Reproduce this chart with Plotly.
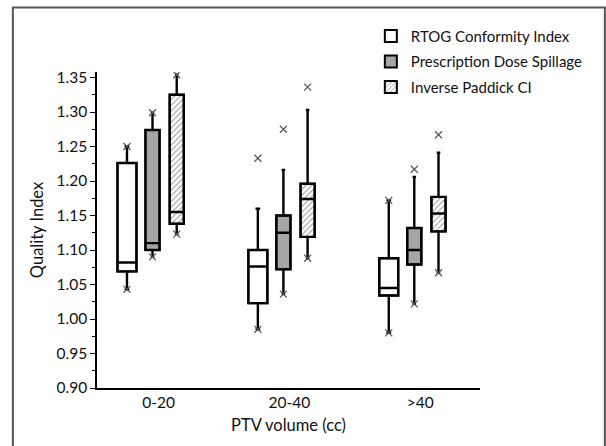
import plotly.graph_objects as go

# ---------------- data ----------------
categories = ["0-20", "20-40", ">40"]
series_names = ["RTOG Conformity Index", "Prescription Dose Spillage", "Inverse Paddick CI"]

rtog_q1 = [1.069, 1.023, 1.034]
rtog_median = [1.082, 1.076, 1.045]
rtog_q3 = [1.226, 1.100, 1.088]
rtog_low = [1.043, 0.985, 0.980]
rtog_high = [1.250, 1.160, 1.172]
rtog_min = [1.043, 0.985, 0.980]
rtog_max = [1.250, 1.233, 1.172]

pds_q1 = [1.100, 1.072, 1.079]
pds_median = [1.110, 1.125, 1.100]
pds_q3 = [1.274, 1.150, 1.132]
pds_low = [1.090, 1.036, 1.022]
pds_high = [1.299, 1.216, 1.206]
pds_min = [1.090, 1.036, 1.022]
pds_max = [1.299, 1.275, 1.217]

ipci_q1 = [1.138, 1.119, 1.127]
ipci_median = [1.155, 1.174, 1.153]
ipci_q3 = [1.325, 1.196, 1.177]
ipci_low = [1.123, 1.088, 1.067]
ipci_high = [1.354, 1.303, 1.241]
ipci_min = [1.123, 1.088, 1.067]
ipci_max = [1.354, 1.336, 1.267]

# ---------------- styling ----------------
FONT = "Lato"
series_stats = [
    (rtog_q1, rtog_median, rtog_q3, rtog_low, rtog_high, rtog_min, rtog_max),
    (pds_q1, pds_median, pds_q3, pds_low, pds_high, pds_min, pds_max),
    (ipci_q1, ipci_median, ipci_q3, ipci_low, ipci_high, ipci_min, ipci_max),
]
fills = ["white", "#A6A6A6", "white"]
patterns = ["", "", "/"]
offsets = [-0.195, 0.0, 0.185]
widths = [0.145, 0.108, 0.108]
group_pos = [i + 1 for i in range(len(categories))]

fig = go.Figure()

for k, name in enumerate(series_names):
    q1, med, q3, lo, hi, mn, mx = series_stats[k]
    xs = [g + offsets[k] for g in group_pos]
    # filled box body (bar from q1 to q3) -> also legend entry
    fig.add_trace(go.Bar(
        x=xs, y=[b - a for a, b in zip(q1, q3)], base=q1, width=widths[k],
        name=name, legendgroup=name,
        marker=dict(color=fills[k], line=dict(color="black", width=2),
                    pattern=dict(shape=patterns[k], fgcolor="#333", bgcolor=fills[k],
                                 size=4, solidity=0.28, fillmode="overlay")),
        hoverinfo="skip",
    ))
    # box outline / whiskers / median
    fig.add_trace(go.Box(
        x=xs, q1=q1, median=med, q3=q3, lowerfence=lo, upperfence=hi,
        width=widths[k], whiskerwidth=0.25,
        fillcolor="rgba(0,0,0,0)", line=dict(color="black", width=2.4),
        showlegend=False, legendgroup=name, boxpoints=False,
    ))
    # min / max markers
    fig.add_trace(go.Scatter(
        x=xs + xs, y=mn + mx, mode="markers", showlegend=False, legendgroup=name,
        marker=dict(symbol="x-thin", size=7, line=dict(color="#555", width=1.2)),
        hoverinfo="skip",
    ))

# outer frame of the figure
fig.add_shape(type="rect", xref="paper", yref="paper",
              x0=-0.2197, x1=1.326, y0=-0.3, y1=1.2044,
              line=dict(color="#555", width=2), fillcolor="rgba(0,0,0,0)", layer="below")

fig.update_layout(
    width=606, height=446,
    margin=dict(l=96.7, r=126, t=71.5, b=57.5),
    paper_bgcolor="white", plot_bgcolor="white",
    font=dict(family=FONT, size=15.5, color="#111"),
    barmode="overlay", boxmode="overlay",
    legend=dict(x=0.715, y=1.165, xanchor="left", yanchor="top",
                font=dict(size=15, family=FONT), tracegroupgap=3,
                bgcolor="rgba(0,0,0,0)"),
    showlegend=True,
)
fig.update_xaxes(
    range=[0.576, 3.502], tickvals=group_pos, ticktext=categories,
    showline=True, linecolor="black", linewidth=1.5, ticks="", showgrid=False,
    zeroline=False, ticklabelshift=6,
    title=dict(text="PTV volume (cc)", standoff=9, font=dict(size=16.5)),
)
fig.update_yaxes(
    range=[0.90, 1.358], dtick=0.05, tick0=0.90, tickformat=".2f",
    showline=True, linecolor="black", linewidth=1.5, ticks="outside", ticklen=5,
    tickwidth=1.2, tickcolor="black",
    minor=dict(ticks="outside", ticklen=3, dtick=0.025, tickcolor="black", tickwidth=1),
    showgrid=False, zeroline=False,
    title=dict(text="Quality Index", standoff=9, font=dict(size=16.5)),
)

fig.write_html("out.html", config={"displayModeBar": False},
               post_script="document.body.style.margin='0';")
